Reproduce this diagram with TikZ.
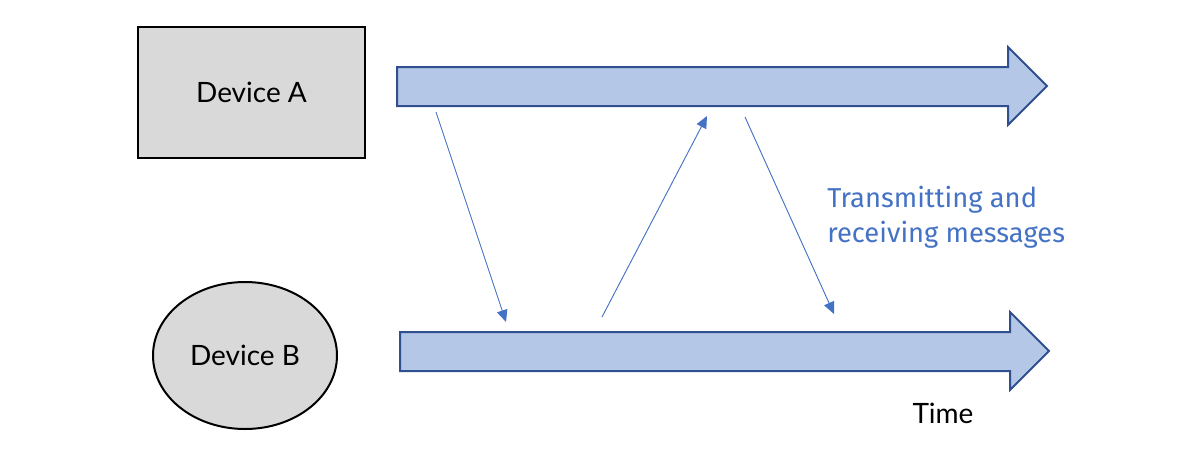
\documentclass[tikz,border=0pt]{standalone}
\usepackage{fontspec}
\setmainfont{Lato}
\newfontfamily\labelfont{Fira Sans}
\usetikzlibrary{arrows.meta,shapes.geometric}
\definecolor{arrowfill}{HTML}{B4C7E7}
\definecolor{arrowline}{HTML}{2F4F8F}
\definecolor{msgblue}{HTML}{4472C4}
\definecolor{devgray}{HTML}{D9D9D9}
\tikzset{
  timearrow/.style={fill=arrowfill, draw=arrowline, line width=1.5pt, line join=miter},
  device/.style={fill=devgray, draw=black, line width=1.5pt, font=\fontsize{21}{24}\selectfont, inner sep=0pt},
  msg/.style={draw=msgblue, line width=0.7pt, -{Triangle[length=9pt,width=8pt]}},
}
\begin{document}
\begin{tikzpicture}[x=0.75pt,y=-0.75pt]
\useasboundingbox (0,0) rectangle (1200,451);
% devices
\node[device, rectangle, minimum width=227*0.75pt, minimum height=131*0.75pt] (devA) at (251.5,92.5) {Device A};
\node[device, ellipse, minimum width=184*0.75pt, minimum height=147*0.75pt] (devB) at (245,355.5) {Device B};
% time arrows
\draw[timearrow] (397,67) -- (1008,67) -- (1008,47) -- (1047,86) -- (1008,125) -- (1008,106) -- (397,106) -- cycle;
\draw[timearrow] (400,332) -- (1010,332) -- (1010,312) -- (1049,351) -- (1010,390) -- (1010,371) -- (400,371) -- cycle;
% message endpoints
\coordinate (m1s) at (436,112);
\coordinate (m1e) at (506,322);
\coordinate (m2s) at (602,317);
\coordinate (m2e) at (707,116);
\coordinate (m3s) at (745,117);
\coordinate (m3e) at (834,314);
\draw[msg] (m1s) -- (m1e);
\draw[msg] (m2s) -- (m2e);
\draw[msg] (m3s) -- (m3e);
% labels
\node[anchor=west, text=msgblue, font=\labelfont\fontsize{20.5}{26.5}\selectfont, align=left, inner sep=0pt] (lbl) at (827,217) {Transmitting and\\receiving messages};
\node[font=\fontsize{21}{24}\selectfont, inner sep=0pt] (time) at (943,413) {Time};
\end{tikzpicture}
\end{document}
